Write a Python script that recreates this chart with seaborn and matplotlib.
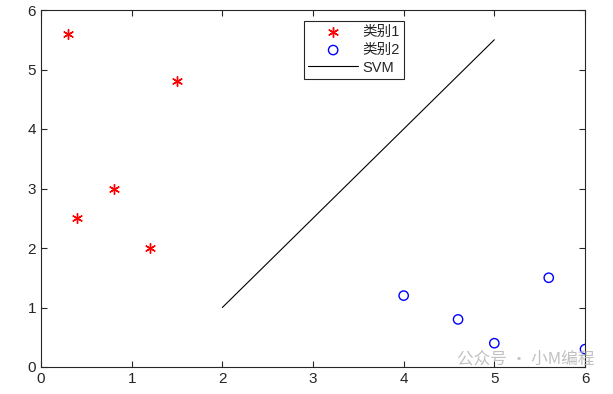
import matplotlib
matplotlib.use("Agg")
import matplotlib.pyplot as plt
import seaborn as sns
import pandas as pd

# data
class1_x = [0.3, 0.4, 0.8, 1.2, 1.5]
class1_y = [5.6, 2.5, 3.0, 2.0, 4.8]
class2_x = [4.0, 4.6, 5.0, 5.6, 6.0]
class2_y = [1.2, 0.8, 0.4, 1.5, 0.3]
svm_x = [2.0, 5.0]
svm_y = [1.0, 5.5]
labels = ["类别1", "类别2", "SVM"]
ticks = [0, 1, 2, 3, 4, 5, 6]

sns.set_theme(style="white")
plt.rcParams['font.family'] = ['Liberation Sans', 'Noto Sans CJK SC', 'DejaVu Sans']

fig = plt.figure(figsize=(6.13, 3.94), dpi=100)
ax = fig.add_axes([41/613, (394-367)/394, 544/613, 357/394])

df1 = pd.DataFrame({"x": class1_x, "y": class1_y})
df2 = pd.DataFrame({"x": class2_x, "y": class2_y})
dfl = pd.DataFrame({"x": svm_x, "y": svm_y})

sns.scatterplot(data=df1, x="x", y="y", ax=ax, marker=(6, 2, 0), s=50,
                color="red", edgecolor="red", linewidth=1.0, label=labels[0])
sns.scatterplot(data=df2, x="x", y="y", ax=ax, marker="o", s=45,
                facecolor="none", edgecolor="blue", linewidth=1.0, label=labels[1])
sns.lineplot(data=dfl, x="x", y="y", ax=ax, color="black", linewidth=0.8, label=labels[2])

ax.set_xlim(0, 6)
ax.set_ylim(0, 6)
ax.set_xticks(ticks)
ax.set_yticks(ticks)
ax.set_xlabel("")
ax.set_ylabel("")
for s in ax.spines.values():
    s.set_visible(True)
    s.set_color("#262626")
    s.set_linewidth(0.8)
ax.tick_params(direction="in", length=4, width=0.8, colors="#262626",
               labelsize=11, top=True, right=True, bottom=True, left=True,
               labeltop=False, labelright=False)
for lab in ax.get_xticklabels() + ax.get_yticklabels():
    lab.set_color("#262626")

leg = ax.legend(loc="upper left", bbox_to_anchor=(0.47, 0.99), frameon=True,
                fancybox=False, edgecolor="#262626", fontsize=10.5,
                handlelength=3.4, borderpad=0.3, labelspacing=0.25,
                handletextpad=0.3, markerfirst=True)
leg.get_frame().set_linewidth(0.8)
leg.get_frame().set_alpha(1)
for t in leg.get_texts():
    t.set_color("#262626")

fig.text(0.745, 0.068, "公众号 · 小M编程", color="#bbbbbb", fontsize=12,
         family=['Noto Sans CJK SC', 'DejaVu Sans'], alpha=0.9, va="bottom")

fig.savefig("out.png", dpi=100)
